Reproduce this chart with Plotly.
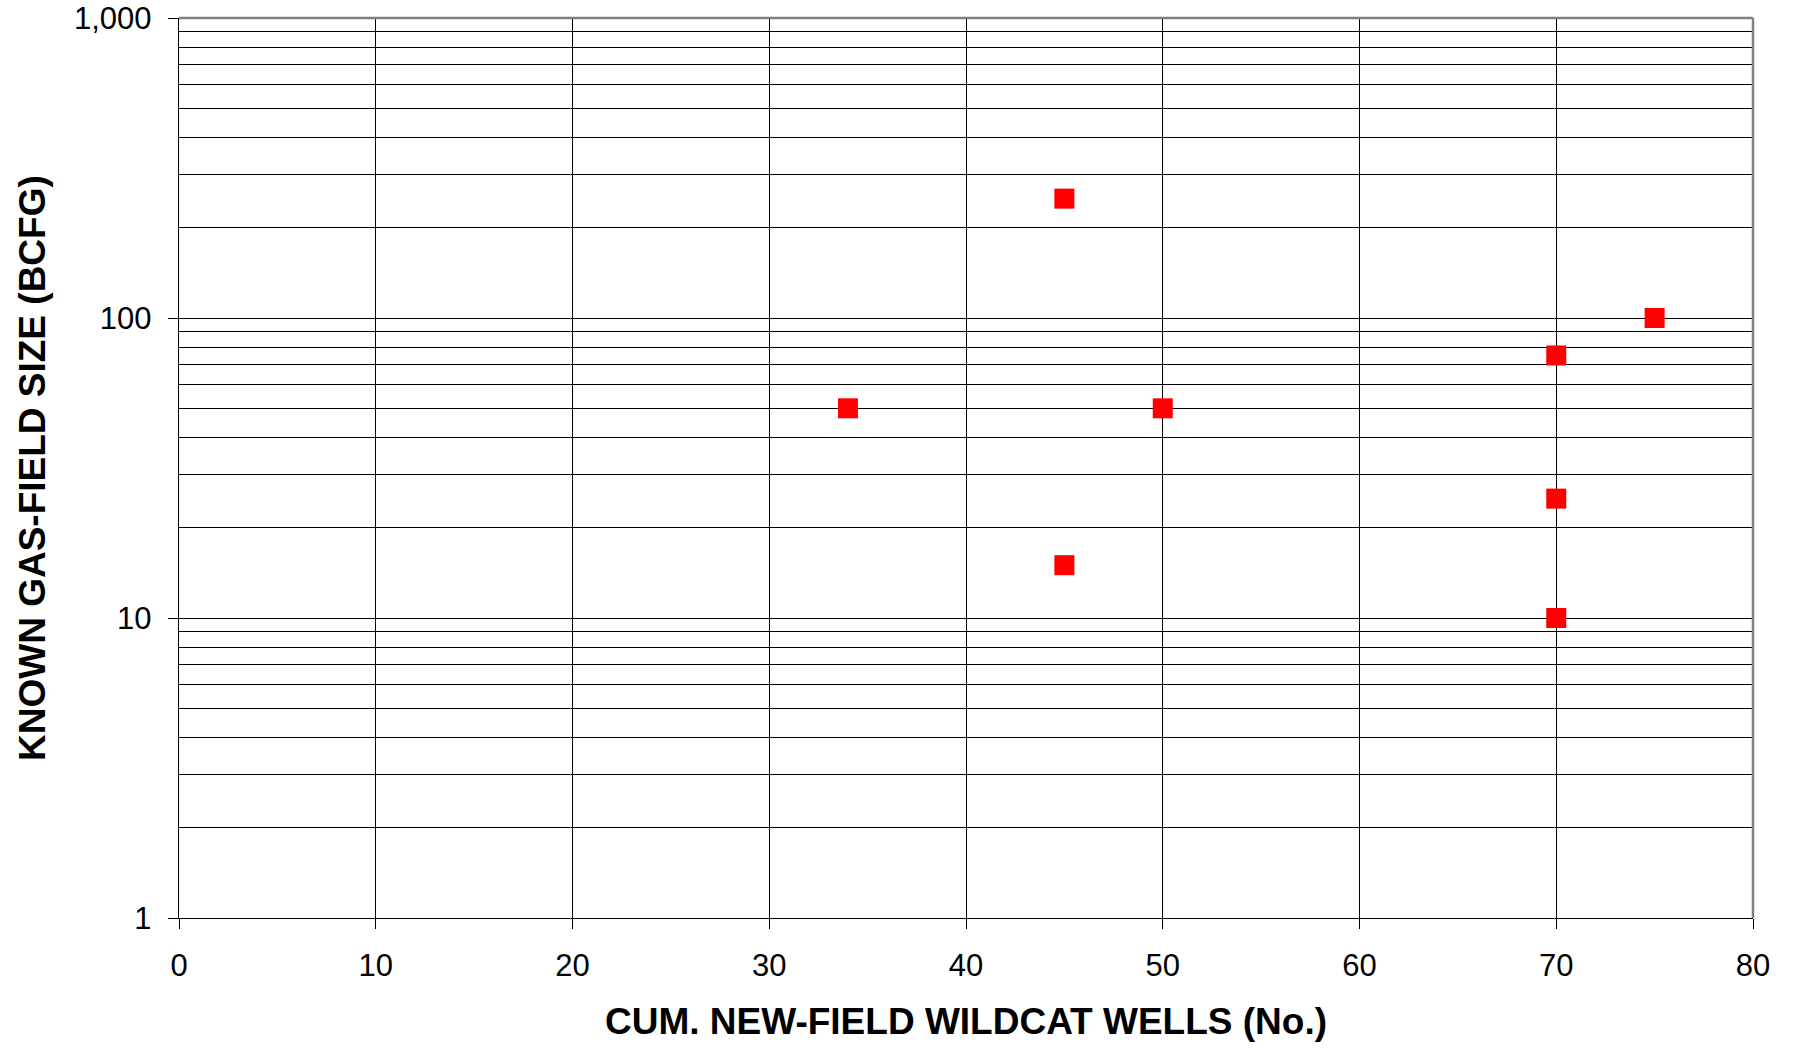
import plotly.graph_objects as go

wells = [34, 45, 45, 50, 70, 70, 70, 75]
field_size = [50, 250, 15, 50, 75, 25, 10, 100]

y_major = [1, 10, 100, 1000]
y_major_text = ["1", "10", "100", "1,000"]
y_minor = [m * d for d in (1, 10, 100) for m in range(2, 10)]
x_ticks = list(range(0, 81, 10))

x_title = "CUM. NEW-FIELD WILDCAT WELLS (No.)"
y_title = "KNOWN GAS-FIELD SIZE (BCFG)"

font_family = "Liberation Sans, Arial, sans-serif"

fig = go.Figure()
fig.add_trace(go.Scatter(
    x=wells, y=field_size, mode="markers",
    marker=dict(symbol="square", size=20, color="#ff0000", line=dict(width=0)),
    showlegend=False, cliponaxis=False,
))

axis_common = dict(
    showgrid=True, gridcolor="black", gridwidth=1.4,
    zeroline=False, showline=True, linecolor="black", linewidth=1.4,
    ticks="outside", ticklen=10, tickwidth=1.4, tickcolor="black",
    tickfont=dict(size=31), ticklabeloverflow="allow", automargin=False,
)

fig.update_layout(
    width=1793, height=1048,
    margin=dict(l=179, r=40, t=18, b=130, autoexpand=False),
    paper_bgcolor="white", plot_bgcolor="white",
    font=dict(family=font_family, size=31, color="black"),
    xaxis=dict(range=[0, 80], tickvals=x_ticks, ticklabelstandoff=10, **axis_common),
    yaxis=dict(
        type="log", range=[0, 3], tickvals=y_major, ticktext=y_major_text,
        ticklabelstandoff=10,
        minor=dict(tickvals=y_minor, showgrid=True, gridcolor="black", gridwidth=1.4, ticks=""),
        **axis_common,
    ),
    annotations=[
        dict(text="<b>" + x_title + "</b>", xref="paper", yref="paper", x=0.5, y=0,
             xanchor="center", yanchor="middle", yshift=-103, showarrow=False,
             font=dict(size=37)),
        dict(text="<b>" + y_title + "</b>", xref="paper", yref="paper", x=0, y=0.5,
             xanchor="center", yanchor="middle", xshift=-147, textangle=-90, showarrow=False,
             font=dict(size=37)),
    ],
    shapes=[
        dict(type="line", xref="paper", yref="paper", x0=0, x1=1, y0=1, y1=1,
             line=dict(color="#808080", width=2.5)),
        dict(type="line", xref="paper", yref="paper", x0=1, x1=1, y0=0, y1=1,
             line=dict(color="#808080", width=2.5)),
    ],
)

fig.write_html(
    "out.html",
    config={"displayModeBar": False},
    post_script="document.body.style.margin='0';document.body.style.overflow='hidden';",
)
